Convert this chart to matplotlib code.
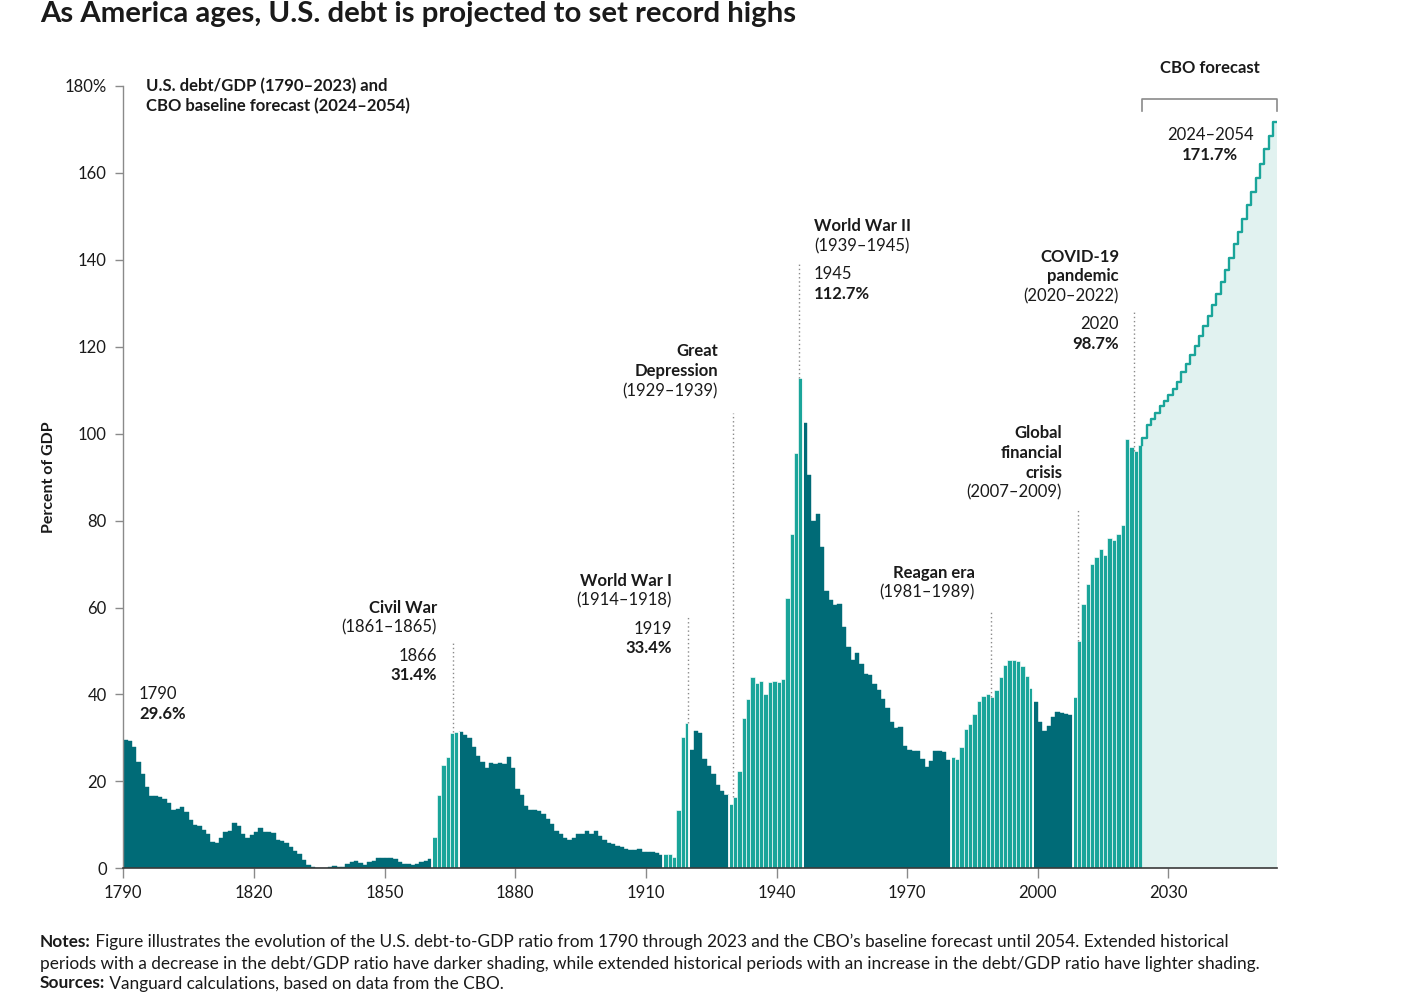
import numpy as np
import matplotlib
matplotlib.use('Agg')
import matplotlib.pyplot as plt

# ---------------- data ----------------
hist_years = list(range(1790, 2024))
hist_values = [
    29.6, 29.3, 27.8, 24.4, 21.6, 18.6, 16.6, 16.6, 16.3, 15.9,   # 1790s
    15.1, 13.5, 13.7, 14.2, 13.0, 11.0, 10.0, 9.8, 8.9, 7.8,      # 1800s
    6.1, 5.9, 6.9, 8.3, 8.5, 10.4, 9.8, 8.0, 6.9, 7.6,            # 1810s
    8.4, 9.3, 8.4, 8.4, 8.1, 6.5, 6.3, 5.9, 4.8, 4.0,             # 1820s
    3.2, 1.9, 0.7, 0.4, 0.1, 0.0, 0.0, 0.3, 0.6, 0.3,             # 1830s
    0.3, 1.1, 1.4, 1.7, 1.2, 0.7, 1.5, 1.7, 2.4, 2.4,             # 1840s
    2.4, 2.4, 2.1, 1.4, 1.1, 1.1, 0.7, 1.1, 1.5, 1.7,             # 1850s
    2.1, 7.1, 16.8, 23.7, 25.5, 31.1, 31.4, 31.4, 30.7, 30.0,     # 1860s
    27.9, 25.8, 24.5, 23.1, 24.2, 23.9, 24.2, 23.9, 25.5, 23.1,   # 1870s
    18.3, 16.8, 14.4, 13.4, 13.4, 13.1, 12.4, 11.4, 10.3, 8.6,    # 1880s
    7.9, 6.9, 6.5, 6.9, 7.8, 7.8, 8.6, 7.8, 8.6, 7.5,             # 1890s
    6.5, 5.8, 5.5, 5.1, 4.8, 4.5, 4.2, 4.1, 4.4, 3.8,             # 1900s
    3.8, 3.8, 3.5, 3.1, 3.3, 3.3, 2.7, 13.3, 30.3, 33.4,          # 1910s
    27.2, 31.7, 31.1, 25.2, 23.6, 21.8, 19.2, 17.9, 16.9, 14.8,   # 1920s
    16.5, 22.4, 34.5, 38.9, 44.1, 42.7, 43.1, 40.0, 42.8, 43.1,   # 1930s
    42.9, 43.5, 62.1, 76.9, 95.5, 112.7, 102.5, 90.4, 80.0, 81.5, # 1940s
    73.9, 63.8, 61.7, 60.6, 60.8, 55.5, 51.0, 47.9, 49.6, 47.0,   # 1950s
    44.8, 44.5, 42.4, 41.0, 38.9, 36.8, 33.7, 32.2, 32.4, 28.2,   # 1960s
    27.2, 27.1, 27.0, 25.1, 23.2, 24.8, 26.9, 27.1, 26.8, 24.9,   # 1970s
    25.5, 25.2, 27.9, 32.0, 33.1, 35.4, 38.5, 39.7, 40.0, 39.3,   # 1980s
    41.0, 44.1, 46.8, 47.9, 47.9, 47.6, 46.6, 44.3, 41.6, 38.2,   # 1990s
    33.7, 31.7, 32.7, 34.9, 35.9, 35.8, 35.5, 35.2, 39.3, 52.2,   # 2000s
    60.7, 65.4, 70.0, 71.7, 73.5, 72.1, 75.9, 75.5, 76.9, 79.0,   # 2010s
    98.7, 97.0, 96.0, 97.4,                                       # 2020-2023
]
forecast_years = list(range(2024, 2055))
forecast_values = [
    99.1, 101.9, 103.3, 104.7, 106.3, 107.5, 108.8, 110.2, 111.9, 114.1,
    116.0, 118.1, 120.2, 122.4, 124.7, 127.1, 129.5, 132.2, 135.0, 137.7,
    140.5, 143.6, 146.4, 149.5, 152.6, 155.7, 158.9, 162.0, 165.4, 168.5,
    171.7,
]
segment_starts = [1790, 1861, 1867, 1914, 1920, 1929, 1946, 1980, 1999, 2008]
segment_shades = ['dark', 'light', 'dark', 'light', 'dark', 'light', 'dark', 'light', 'dark', 'light']

y_ticks = [0, 20, 40, 60, 80, 100, 120, 140, 160, 180]
y_tick_labels = ['0', '20', '40', '60', '80', '100', '120', '140', '160', '180%']
x_ticks = [1790, 1820, 1850, 1880, 1910, 1940, 1970, 2000, 2030]

# ---------------- style ----------------
DARK = '#006B77'
LIGHT = '#1AA59A'
FILL = '#E1F2F0'
GRAY = '#8A8A8A'
TXT = '#1A1A1A'
FONT = 'Lato'
REG = 'normal'
plt.rcParams['font.family'] = [FONT, 'DejaVu Sans']

W, H = 1401, 992
fig = plt.figure(figsize=(W / 100, H / 100), dpi=100)
ax_l, ax_r, ax_b, ax_t = 123.3, 1277.3, 868.3, 86.0
ax = fig.add_axes([ax_l / W, (H - ax_b) / H, (ax_r - ax_l) / W, (ax_b - ax_t) / H])
ax.set_xlim(1790, 2055)
ax.set_ylim(0, 180)

# ---------------- bars ----------------
years = np.array(hist_years)
vals = np.array(hist_values)
shade = np.empty(len(years), dtype=object)
for i, start in enumerate(segment_starts):
    end = segment_starts[i + 1] if i + 1 < len(segment_starts) else 2024
    shade[(years >= start) & (years < end)] = segment_shades[i]

dark_mask = shade == 'dark'
light_mask = shade == 'light'
ax.bar(years[dark_mask], vals[dark_mask], width=1.0, align='edge', color=DARK,
       edgecolor=DARK, linewidth=0.3, zorder=2)
ax.bar(years[light_mask], vals[light_mask], width=1.0, align='edge', color=LIGHT,
       edgecolor='white', linewidth=0.45, zorder=2)

# white separators between segments
for start in segment_starts[1:]:
    idx = list(years).index(start)
    top = max(vals[idx], vals[idx - 1])
    ax.plot([start, start], [0, top], color='white', lw=1.3, zorder=3,
            solid_capstyle='butt')

# ---------------- forecast ----------------
fy = np.array(forecast_years + [forecast_years[-1] + 1])
fv = np.array(forecast_values + [forecast_values[-1]])
ax.fill_between(fy, 0, fv, step='post', color=FILL, linewidth=0, zorder=1)
ax.step(np.r_[fy[0], fy], np.r_[vals[-1], fv], where='post', color=LIGHT,
        lw=1.7, zorder=4)

# ---------------- axes styling ----------------
for s in ['top', 'right']:
    ax.spines[s].set_visible(False)
ax.spines['left'].set_color(GRAY)
ax.spines['left'].set_linewidth(1.0)
ax.spines['bottom'].set_color('#3A3A3A')
ax.spines['bottom'].set_linewidth(1.2)
ax.spines['bottom'].set_zorder(6)
ax.set_yticks(y_ticks)
ax.set_yticklabels(y_tick_labels)
ax.set_xticks(x_ticks)
ax.set_xticklabels([str(x) for x in x_ticks])
ax.tick_params(axis='y', length=6, width=1, color=GRAY, pad=6, labelsize=12,
               labelcolor=TXT)
ax.tick_params(axis='x', length=7, width=1, color=GRAY, pad=5, labelsize=12,
               labelcolor=TXT)
for lab in ax.get_xticklabels() + ax.get_yticklabels():
    lab.set_fontweight(REG)
ax.set_ylabel('Percent of GDP', fontsize=11.5, fontweight='bold', color=TXT,
              labelpad=0)
ax.yaxis.set_label_coords(-0.058, 0.5)


def X(px):
    return 1790 + (px - ax_l) / ((ax_r - ax_l) / 265.0)


def Y(py):
    return (ax_b - py) / ((ax_b - ax_t) / 180.0)


def txt(px, py, s, ha='right', bold=False, size=12):
    ax.text(X(px), Y(py), s, ha=ha, va='center', fontsize=size,
            fontweight='bold' if bold else REG, color=TXT, zorder=7,
            clip_on=False)


def dotted(xv, y0, y1):
    ax.plot([xv, xv], [y0, y1], color=GRAY, lw=1.0, ls=(0, (1, 2)), zorder=5)


# subtitle
txt(146, 86, 'U.S. debt/GDP (1790–2023) and', ha='left', bold=True)
txt(146, 106, 'CBO baseline forecast (2024–2054)', ha='left', bold=True)

# 1790
txt(139, 694, '1790', ha='left')
txt(139, 714, '29.6%', ha='left', bold=True)

# Civil War
txt(437, 608, 'Civil War', bold=True)
txt(437, 627, '(1861–1865)')
txt(437, 656, '1866')
txt(437, 675, '31.4%', bold=True)
dotted(1865.7, 31.4, Y(643))

# WWI
txt(672, 581, 'World War I', bold=True)
txt(672, 600, '(1914–1918)')
txt(672, 629, '1919')
txt(672, 648, '33.4%', bold=True)
dotted(1919.6, 33.4, Y(617))

# Great Depression
txt(718, 351, 'Great', bold=True)
txt(718, 371, 'Depression', bold=True)
txt(718, 391, '(1929–1939)')
dotted(1930.1, 16.5, Y(413))

# WWII
txt(814, 226, 'World War II', ha='left', bold=True)
txt(814, 246, '(1939–1945)', ha='left')
txt(814, 274, '1945', ha='left')
txt(814, 294, '112.7%', ha='left', bold=True)
dotted(1945.2, 112.7, Y(262))

# Reagan era
txt(975, 573, 'Reagan era', bold=True)
txt(975, 592, '(1981–1989)')
dotted(1989.2, 39.3, Y(610))

# GFC
txt(1062, 433, 'Global', bold=True)
txt(1062, 453, 'financial', bold=True)
txt(1062, 473, 'crisis', bold=True)
txt(1062, 492, '(2007–2009)')
dotted(2009.2, 52.2, Y(509))

# COVID
txt(1119, 257, 'COVID-19', bold=True)
txt(1119, 276, 'pandemic', bold=True)
txt(1119, 296, '(2020–2022)')
txt(1119, 324, '2020')
txt(1119, 344, '98.7%', bold=True)
dotted(2022.2, 96.0, Y(311))

# CBO forecast bracket
bx0, bx1 = 2024.0, 2055.0
by, byt = Y(99), Y(110.5)
ax.plot([bx0, bx0, bx1, bx1], [byt, by, by, byt], color=GRAY, lw=1.2,
        clip_on=False, zorder=5)
txt(1210, 68, 'CBO forecast', ha='center', bold=True)
txt(1210, 135, '2024–2054', ha='center')
txt(1210, 155, '171.7%', ha='center', bold=True)

# ---------------- title & notes ----------------
fig.text(40 / W, 1 - 22 / H, 'As America ages, U.S. debt is projected to set record highs',
         ha='left', va='baseline', fontsize=21.2, fontweight='bold', color=TXT)

renderer = fig.canvas.get_renderer()


def mixed(px, py, bold_part, rest, size=12.45):
    t = fig.text(px / W, 1 - py / H, bold_part, ha='left', va='center',
                 fontsize=size, fontweight='bold', color=TXT)
    bb = t.get_window_extent(renderer=renderer)
    fig.text(bb.x1 / W, 1 - py / H, ' ' + rest, ha='left', va='center',
             fontsize=size, fontweight=REG, color=TXT)


mixed(40, 942, 'Notes:', 'Figure illustrates the evolution of the U.S. debt-to-GDP ratio from 1790 '
      'through 2023 and the CBO’s baseline forecast until 2054. Extended historical')
fig.text(40 / W, 1 - 964 / H, 'periods with a decrease in the debt/GDP ratio have darker shading, '
         'while extended historical periods with an increase in the debt/GDP ratio have lighter shading.',
         ha='left', va='center', fontsize=12.45, fontweight=REG, color=TXT)
mixed(40, 983.5, 'Sources:', 'Vanguard calculations, based on data from the CBO.')

fig.savefig('out.png', dpi=100, facecolor='white')
